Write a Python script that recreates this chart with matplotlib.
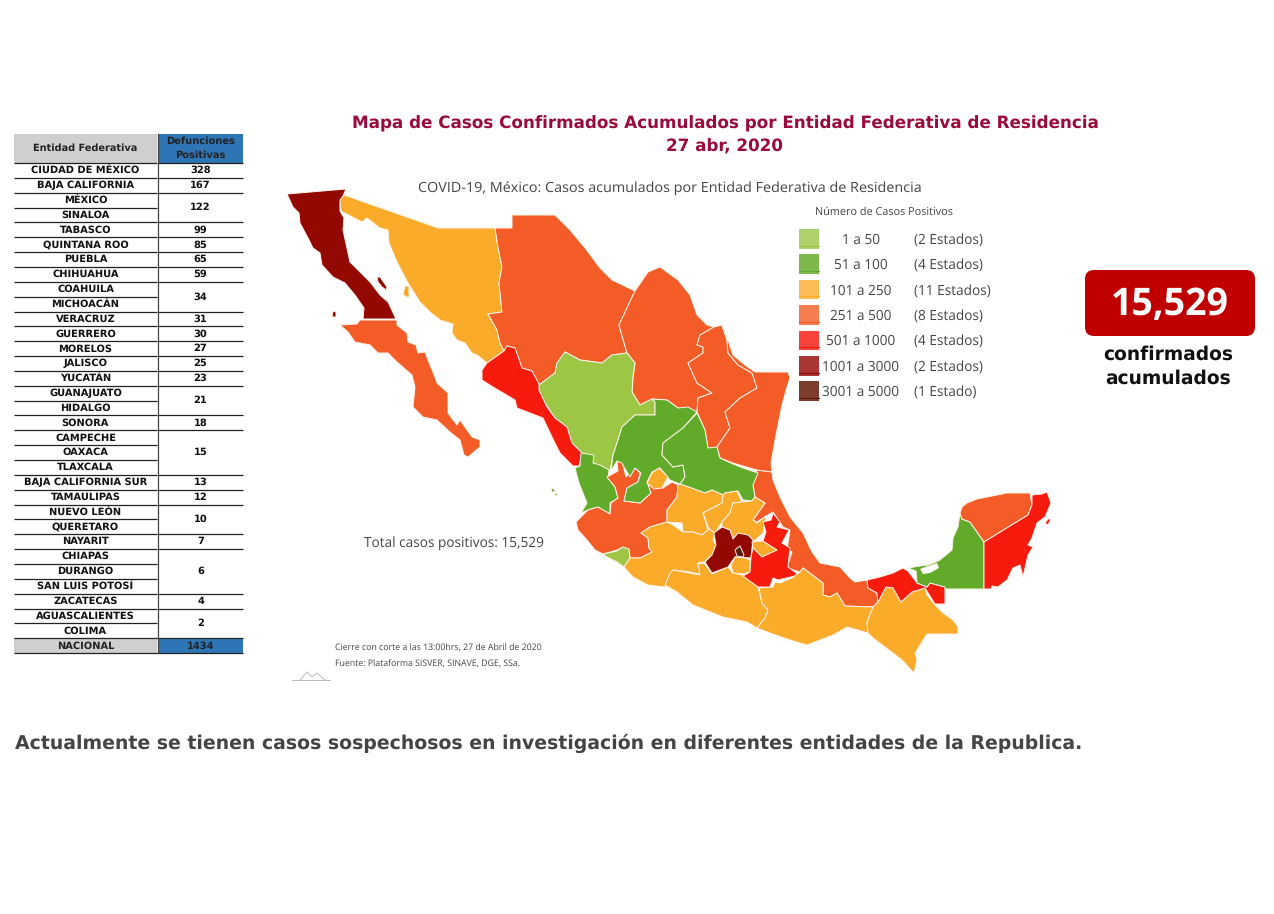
import matplotlib
matplotlib.use('Agg')
import matplotlib.pyplot as plt
from matplotlib.patches import FancyBboxPatch, Rectangle

# Table data
entidades = ['CIUDAD DE MÉXICO', 'BAJA CALIFORNIA', 'MÉXICO', 'SINALOA', 'TABASCO', 'QUINTANA ROO',
             'PUEBLA', 'CHIHUAHUA', 'COAHUILA', 'MICHOACÁN', 'VERACRUZ', 'GUERRERO', 'MORELOS',
             'JALISCO', 'YUCATÁN', 'GUANAJUATO', 'HIDALGO', 'SONORA', 'CAMPECHE', 'OAXACA',
             'TLAXCALA', 'BAJA CALIFORNIA SUR', 'TAMAULIPAS', 'NUEVO LEÓN', 'QUERETARO', 'NAYARIT',
             'CHIAPAS', 'DURANGO', 'SAN LUIS POTOSÍ', 'ZACATECAS', 'AGUASCALIENTES', 'COLIMA']
defunciones = [328, 167, 122, 99, 85, 65, 59, 34, 31, 30, 27, 25, 23, 21, 18, 15, 13, 12, 10, 7, 6, 4, 2]
filas_por_valor = [1, 1, 2, 1, 1, 1, 1, 2, 1, 1, 1, 1, 1, 2, 1, 3, 1, 1, 2, 1, 3, 1, 2]
total_nacional = 1434

# Legend data
rangos = ['1 a 50', '51 a 100', '101 a 250', '251 a 500', '501 a 1000', '1001 a 3000', '3001 a 5000']
conteos = ['(2 Estados)', '(4 Estados)', '(11 Estados)', '(8 Estados)', '(4 Estados)', '(2 Estados)', '(1 Estado)']
color_mapa = ['#9CC644', '#62AA29', '#FAAB2A', '#F35C27', '#F71B0E', '#930800', '#5B1D0A']
color_leyenda = ['#AFD16B', '#7DB84D', '#FBBC55', '#F57D50', '#F8423A', '#A93633', '#7D3D2E']

# State outlines
BAJA_CALIFORNIA = [(287, 194), (346, 189), (340, 203), (340, 211), (344, 218), (343, 230), (348, 253), (350, 262),
                   (360, 272), (370, 282), (380, 295), (388, 302), (396, 319), (363, 319), (364, 308), (355, 295),
                   (345, 283), (333, 277), (322, 265), (320, 253), (313, 248), (308, 238), (300, 223), (299, 213),
                   (293, 207)]
ISLA_GUADALUPE = [(333, 311), (336, 312), (336, 317), (332, 317)]
ISLA_ANGEL = [(377, 277), (380, 277), (387, 287), (386, 290), (382, 287), (378, 282)]
BAJA_SUR = [(360, 320), (397, 320), (397, 325), (407, 333), (408, 342), (416, 345), (418, 353), (425, 352), (428, 360),
            (435, 377), (437, 383), (448, 393), (448, 413), (457, 425), (460, 420), (472, 437), (480, 440), (480, 447),
            (468, 457), (464, 455), (460, 440), (450, 432), (437, 420), (423, 417), (413, 407), (415, 387), (412, 375),
            (397, 362), (388, 353), (378, 353), (370, 345), (355, 342), (348, 332), (340, 325), (357, 324)]
SONORA = [(344, 195), (438, 228), (495, 228), (498, 247), (502, 267), (499, 283), (502, 312), (488, 314), (497, 330),
          (500, 343), (504, 351), (487, 363), (477, 355), (472, 353), (465, 343), (457, 340), (452, 333), (453, 324),
          (440, 320), (430, 312), (420, 302), (408, 283), (397, 262), (389, 243), (388, 230), (380, 228), (367, 218),
          (362, 222), (341, 211), (340, 200)]
ISLA_TIBURON = [(405, 286), (409, 286), (409, 298), (403, 295)]
CHIHUAHUA = [(512, 215), (555, 215), (570, 230), (585, 248), (600, 268), (612, 280), (635, 291), (619, 325), (623, 340),
             (627, 353), (612, 355), (602, 363), (580, 360), (565, 352), (557, 363), (555, 373), (539, 385), (532, 371),
             (522, 368), (515, 348), (507, 346), (504, 351), (500, 343), (497, 330), (488, 314), (502, 312), (499, 283),
             (502, 267), (498, 247), (495, 228), (512, 228)]
COAHUILA = [(619, 325), (635, 291), (648, 272), (660, 267), (678, 280), (690, 295), (697, 315), (707, 325), (714, 327),
            (700, 335), (697, 345), (703, 347), (703, 353), (688, 363), (697, 383), (712, 393), (698, 398), (697, 412),
            (678, 408), (667, 400), (652, 399), (640, 405), (632, 392), (633, 377), (635, 363), (627, 353)]
NUEVO_LEON = [(697, 345), (700, 335), (714, 327), (722, 325), (727, 340), (728, 353), (738, 365), (752, 373), (757, 388),
              (740, 398), (725, 412), (730, 428), (717, 447), (720, 458), (708, 448), (705, 430), (697, 412), (698, 398),
              (712, 393), (697, 383), (688, 363), (703, 353), (703, 347)]
TAMAULIPAS = [(722, 325), (728, 340), (733, 355), (745, 365), (755, 372), (788, 372), (790, 378), (787, 387), (782, 405),
              (775, 440), (771, 463), (772, 472), (757, 470), (743, 466), (733, 463), (720, 458), (717, 447), (730, 428),
              (725, 412), (740, 398), (757, 388), (752, 373), (738, 365), (728, 353), (727, 340)]
DURANGO = [(539, 385), (555, 373), (557, 363), (565, 352), (580, 360), (602, 363), (612, 355), (627, 353), (635, 363),
           (633, 377), (632, 392), (640, 405), (652, 399), (655, 402), (655, 415), (635, 415), (622, 427), (617, 443),
           (613, 455), (610, 471), (593, 463), (582, 453), (572, 443), (567, 427), (555, 418), (540, 395)]
SINALOA = [(504, 351), (507, 346), (515, 348), (522, 368), (532, 371), (539, 384), (539, 390), (547, 407), (555, 418),
           (567, 427), (572, 443), (582, 453), (579, 466), (573, 466), (560, 453), (552, 437), (543, 418), (530, 413),
           (517, 408), (515, 400), (493, 387), (482, 380), (482, 370), (487, 363)]
NAYARIT = [(581, 453), (594, 455), (593, 463), (600, 465), (609, 470), (608, 478), (615, 487), (618, 498), (610, 503),
           (610, 514), (598, 507), (588, 510), (581, 513), (587, 503), (579, 483), (575, 468), (580, 466)]
ISLA_MARIA_1 = [(551, 488), (554, 489), (555, 492), (552, 492)]
ISLA_MARIA_2 = [(555, 493), (558, 494), (557, 496), (555, 495)]
JALISCO = [(576, 522), (588, 510), (598, 507), (610, 514), (611, 503), (618, 498), (615, 487), (607, 477), (618, 471),
           (617, 462), (622, 461), (623, 465), (626, 477), (635, 468), (640, 473), (638, 482), (627, 488), (624, 501),
           (640, 503), (651, 493), (647, 485), (663, 488), (672, 482), (678, 485), (677, 497), (667, 510), (667, 522),
           (650, 527), (641, 533), (648, 538), (649, 548), (652, 552), (640, 558), (630, 558), (629, 550), (623, 547),
           (617, 550), (603, 554), (595, 550), (587, 540), (578, 530)]
COLIMA = [(603, 554), (617, 551), (623, 547), (629, 549), (630, 558), (624, 567), (617, 562), (607, 557)]
ZACATECAS = [(652, 399), (667, 400), (678, 408), (688, 407), (697, 412), (683, 428), (663, 443), (662, 455), (673, 467),
             (683, 465), (685, 477), (680, 484), (670, 480), (660, 468), (652, 472), (647, 482), (651, 493), (640, 503),
             (624, 501), (627, 488), (638, 482), (641, 473), (635, 468), (630, 477), (624, 467), (622, 463), (617, 461),
             (611, 471), (613, 455), (617, 443), (622, 427), (635, 415), (655, 415), (655, 402)]
AGUASCALIENTES = [(647, 483), (652, 473), (659, 468), (668, 477), (662, 488), (654, 489)]
SAN_LUIS = [(697, 413), (705, 430), (708, 448), (717, 447), (720, 458), (733, 464), (743, 468), (758, 473), (753, 485),
            (755, 497), (752, 501), (743, 500), (738, 491), (725, 493), (723, 495), (712, 490), (705, 493), (680, 484),
            (685, 477), (683, 465), (673, 467), (662, 455), (663, 443), (683, 428)]
GUANAJUATO = [(680, 484), (705, 493), (712, 490), (723, 495), (722, 503), (703, 513), (708, 530), (702, 535), (693, 532),
              (683, 532), (682, 523), (667, 522), (667, 510), (677, 497), (678, 485)]
QUERETARO = [(725, 493), (737, 491), (742, 502), (733, 503), (730, 513), (722, 522), (715, 533), (709, 529), (703, 513),
             (722, 503), (723, 495)]
HIDALGO = [(742, 502), (752, 501), (755, 497), (765, 503), (753, 520), (757, 523), (766, 516), (763, 533), (753, 542),
           (743, 535), (738, 533), (733, 539), (730, 530), (722, 527), (722, 522), (730, 513), (733, 503)]
MICHOACAN = [(624, 567), (630, 558), (640, 558), (652, 552), (649, 548), (648, 538), (641, 533), (650, 527), (667, 522),
             (673, 525), (683, 532), (693, 532), (702, 535), (709, 529), (715, 533), (713, 540), (716, 545), (712, 555),
             (704, 562), (698, 563), (703, 575), (690, 572), (673, 570), (670, 577), (665, 587), (648, 585), (633, 577)]
GUERRERO = [(665, 585), (670, 573), (673, 570), (700, 575), (698, 564), (704, 563), (712, 574), (728, 567), (733, 573),
            (743, 575), (758, 587), (762, 603), (768, 610), (765, 618), (757, 628), (747, 622), (723, 617), (693, 605),
            (677, 592)]
ESTADO_MEXICO = [(722, 527), (730, 530), (733, 539), (738, 533), (748, 535), (753, 540), (752, 548), (751, 558), (735, 557),
                 (728, 567), (712, 573), (705, 562), (712, 555), (716, 545), (714, 533)]
CDMX = [(735, 550), (740, 546), (744, 555), (743, 557), (737, 556)]
MORELOS = [(735, 557), (745, 558), (750, 560), (750, 572), (743, 574), (733, 573), (731, 565)]
TLAXCALA = [(752, 542), (763, 541), (777, 550), (768, 555), (762, 557), (753, 548)]
VERACRUZ = [(757, 470), (772, 472), (773, 480), (780, 497), (790, 517), (803, 533), (812, 552), (820, 563), (840, 567),
            (850, 578), (855, 582), (867, 580), (868, 588), (877, 593), (878, 602), (873, 607), (845, 606), (837, 593),
            (830, 597), (823, 595), (823, 583), (803, 568), (800, 572), (787, 568), (792, 552), (787, 550), (790, 530),
            (783, 527), (773, 512), (766, 516), (757, 522), (753, 520), (765, 503), (755, 497), (753, 485)]
PUEBLA = [(773, 513), (780, 522), (777, 527), (789, 530), (782, 543), (790, 548), (788, 567), (799, 575), (778, 580),
          (773, 578), (770, 587), (758, 587), (743, 576), (750, 572), (751, 557), (753, 548), (762, 557), (777, 550),
          (763, 541), (766, 532), (763, 522), (771, 520)]
OAXACA = [(759, 588), (773, 587), (775, 582), (780, 583), (792, 578), (800, 572), (803, 568), (823, 583), (823, 595),
          (830, 597), (837, 593), (845, 606), (873, 607), (867, 622), (868, 633), (858, 630), (847, 627), (833, 635),
          (807, 645), (790, 640), (770, 633), (757, 628), (765, 618), (768, 610), (762, 603)]
CHIAPAS = [(873, 607), (878, 602), (886, 587), (893, 588), (901, 602), (912, 592), (925, 588), (927, 595), (935, 605),
           (943, 613), (953, 620), (958, 627), (958, 634), (927, 634), (915, 653), (917, 660), (914, 673), (902, 660),
           (893, 653), (873, 638), (868, 633), (867, 622)]
TABASCO = [(867, 580), (880, 577), (893, 573), (903, 568), (908, 571), (917, 583), (927, 587), (930, 583), (945, 587),
           (945, 604), (935, 604), (925, 588), (912, 592), (901, 602), (893, 588), (886, 587), (878, 602), (877, 593),
           (868, 588)]
CAMPECHE = [(908, 568), (920, 566), (928, 565), (936, 562), (940, 560), (952, 550), (953, 538), (958, 527), (960, 513),
            (962, 519), (970, 522), (984, 542), (984, 589), (945, 589), (945, 587), (930, 583), (927, 587), (917, 583),
            (916, 571)]
LAGUNA = [(920, 569), (928, 566), (937, 563), (939, 568), (930, 573), (923, 574)]
YUCATAN = [(960, 513), (962, 507), (967, 503), (977, 499), (1007, 493), (1030, 493), (1032, 505), (1028, 515), (984, 542),
           (970, 522), (962, 519)]
QUINTANA_ROO = [(1032, 495), (1042, 494), (1047, 492), (1051, 503), (1045, 517), (1037, 523), (1032, 538), (1028, 545),
                (1033, 547), (1028, 555), (1023, 577), (1020, 565), (1013, 568), (1007, 580), (998, 587), (992, 586),
                (991, 589), (984, 589), (984, 542), (1028, 515), (1032, 505)]
COZUMEL = [(1045, 523), (1048, 519), (1051, 519), (1048, 525)]

# (outline, legend bin), later ones on top
estados = [(VERACRUZ, 3), (BAJA_CALIFORNIA, 5), (ISLA_GUADALUPE, 5), (ISLA_ANGEL, 5), (BAJA_SUR, 3), (SONORA, 2),
           (ISLA_TIBURON, 2), (CHIHUAHUA, 3), (COAHUILA, 3), (NUEVO_LEON, 3), (TAMAULIPAS, 3), (DURANGO, 0),
           (SINALOA, 4), (NAYARIT, 1), (ISLA_MARIA_1, 1), (ISLA_MARIA_2, 1), (JALISCO, 3), (COLIMA, 0), (ZACATECAS, 1),
           (AGUASCALIENTES, 2), (SAN_LUIS, 1), (GUANAJUATO, 2), (QUERETARO, 2), (HIDALGO, 2), (MICHOACAN, 2),
           (GUERRERO, 2), (ESTADO_MEXICO, 5), (CDMX, 6), (MORELOS, 2), (TLAXCALA, 2), (PUEBLA, 4), (OAXACA, 2),
           (CHIAPAS, 2), (TABASCO, 4), (CAMPECHE, 1), (YUCATAN, 3), (QUINTANA_ROO, 4), (COZUMEL, 4)]

plt.rcParams['font.family'] = ['Open Sans', 'DejaVu Sans']
plt.rcParams['text.hinting'] = 'no_hinting'
fig = plt.figure(figsize=(12.74, 9.14), dpi=100)
ax = fig.add_axes([0, 0, 1, 1])
ax.set_xlim(0, 1274)
ax.set_ylim(914, 0)
ax.axis('off')
ANCHA = 'DejaVu Sans'  # wide bold face for the table and headlines

# Map ------------------------------------------------------------------
for contorno, rango in estados:
    xs, ys = zip(*contorno)
    ax.fill(xs, ys, facecolor=color_mapa[rango], edgecolor='#FFF3EA', linewidth=0.7, joinstyle='round')
xs, ys = zip(*LAGUNA)
ax.fill(xs, ys, facecolor='white', edgecolor='none')

# Titles
ax.text(725, 123.5, 'Mapa de Casos Confirmados Acumulados por Entidad Federativa de Residencia', ha='center', va='center',
        color='#9B0A3C', fontsize=12.1, fontweight='bold', family=ANCHA)
ax.text(725, 146.5, '27 abr, 2020', ha='center', va='center', color='#9B0A3C', fontsize=12.1, fontweight='bold', family=ANCHA)
ax.text(669.5, 189, 'COVID-19, México: Casos acumulados por Entidad Federativa de Residencia', ha='center', va='center',
        color='#444444', fontsize=10.4)
ax.text(884, 212, 'Número de Casos Positivos', ha='center', va='center', color='#444444', fontsize=7.8)
ax.text(364, 543, 'Total casos positivos: 15,529', ha='left', va='center', color='#444444', fontsize=9.8)
ax.text(335, 649, 'Cierre con corte a las 13:00hrs, 27 de Abril de 2020', ha='left', va='center', color='#444444', fontsize=6.3)
ax.text(335, 664, 'Fuente: Plataforma SISVER, SINAVE, DGE, SSa.', ha='left', va='center', color='#444444', fontsize=6.3)
ax.plot([292, 330], [680, 680], color='#BBBBBB', lw=0.7)
ax.plot([300, 307, 312, 317, 325], [680, 672, 677, 673, 680], color='#BBBBBB', lw=0.7)

# Legend
for i, rango in enumerate(rangos):
    y0 = 229 + i * 25.4
    ax.add_patch(Rectangle((799, y0), 20, 19.5, facecolor=color_leyenda[i], edgecolor='none'))
    ax.plot([799, 819], [y0 + 16.5, y0 + 16.5], color=color_mapa[i], lw=0.8)
    ax.text(861, y0 + 11, rango, ha='center', va='center', color='#444444', fontsize=9.8)
    ax.text(914, y0 + 11, conteos[i], ha='left', va='center', color='#444444', fontsize=9.8)

# Table ----------------------------------------------------------------
top = 163
fila = 14.85
gris = '#D0CECE'
azul = '#2E75B6'
tabla = dict(ha='center', va='center', fontweight='bold', family=ANCHA)
ax.add_patch(Rectangle((14, 134), 143, 29, facecolor=gris, edgecolor='none'))
ax.add_patch(Rectangle((158, 134), 85, 29, facecolor=azul, edgecolor='none'))
ax.text(85.5, 148, 'Entidad Federativa', fontsize=7, color='#222222', **tabla)
ax.text(200.5, 141, 'Defunciones', fontsize=7.1, color='#222222', **tabla)
ax.text(200.5, 155.5, 'Positivas', fontsize=7.1, color='#222222', **tabla)
for i, nombre in enumerate(entidades):
    ax.text(85.5, top + fila * (i + 0.5), nombre, fontsize=7.1, color='#111111', **tabla)
    ax.plot([14, 157], [top + fila * i, top + fila * i], color='#222222', lw=0.9, solid_capstyle='butt')
n = 0
for valor, span in zip(defunciones, filas_por_valor):
    ax.text(200.5, top + fila * (n + span / 2), str(valor), fontsize=7.1, color='#111111', **tabla)
    ax.plot([158, 243], [top + fila * n, top + fila * n], color='#222222', lw=0.9, solid_capstyle='butt')
    n += span
y_nac = top + fila * n
ax.add_patch(Rectangle((14, y_nac), 143, fila, facecolor=gris, edgecolor='none'))
ax.add_patch(Rectangle((158, y_nac), 85, fila, facecolor=azul, edgecolor='none'))
ax.plot([14, 243], [y_nac, y_nac], color='#222222', lw=0.9, solid_capstyle='butt')
ax.plot([14, 243], [y_nac + fila, y_nac + fila], color='#222222', lw=0.9, solid_capstyle='butt')
ax.text(85.5, y_nac + fila / 2, 'NACIONAL', fontsize=7.1, color='#222222', **tabla)
ax.text(200.5, y_nac + fila / 2, str(total_nacional), fontsize=7.1, color='#222222', **tabla)
ax.plot([157.5, 157.5], [134, y_nac + fila], color='#444444', lw=0.9)

# Total card -----------------------------------------------------------
ax.add_patch(FancyBboxPatch((1093, 278), 154, 50, boxstyle='round,pad=8,rounding_size=9', facecolor='#C00000', edgecolor='none'))
ax.text(1170, 305.5, '15,529', ha='center', va='center', color='white', fontsize=27, fontweight='bold')
ax.text(1168, 354.5, 'confirmados', ha='center', va='center', color='#111111', fontsize=13.4, fontweight='bold', family=ANCHA)
ax.text(1168, 378.5, 'acumulados', ha='center', va='center', color='#111111', fontsize=13.4, fontweight='bold', family=ANCHA)

ax.text(15, 743.5, 'Actualmente se tienen casos sospechosos en investigación en diferentes entidades de la Republica.',
        ha='left', va='center', color='#444444', fontsize=13.55, fontweight='bold', family=ANCHA)

fig.savefig('out.png', dpi=100)
